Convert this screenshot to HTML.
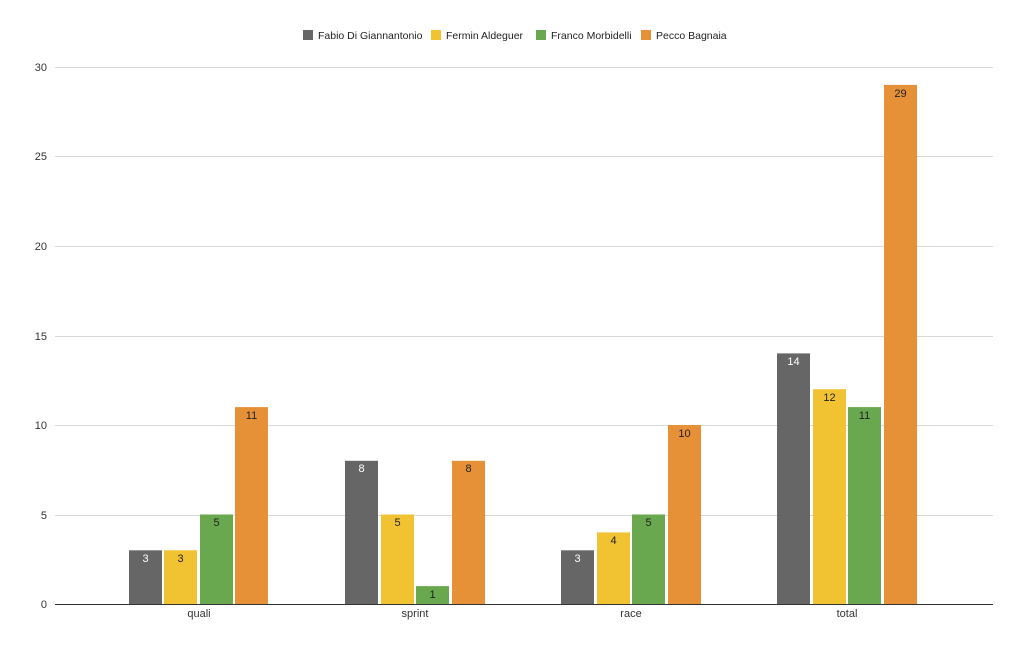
<!DOCTYPE html>
<html><head><meta charset="utf-8"><style>body{margin:0;background:#fff}svg{display:block;font-family:"Liberation Sans",Arial,sans-serif}</style></head><body>
<svg width="1024" height="650" viewBox="0 0 1024 650">
<g font-size="10.5" fill="#222">
<rect x="303" y="30" width="10" height="10" fill="#666666"/><text x="318" y="39">Fabio Di Giannantonio</text>
<rect x="431" y="30" width="10" height="10" fill="#f1c232"/><text x="446" y="39">Fermin Aldeguer</text>
<rect x="536" y="30" width="10" height="10" fill="#6aa84f"/><text x="551" y="39">Franco Morbidelli</text>
<rect x="641" y="30" width="10" height="10" fill="#e69138"/><text x="656" y="39">Pecco Bagnaia</text>
</g>
<g stroke="#d9d9d9" stroke-width="1">
<line x1="55" x2="993" y1="67.5" y2="67.5"/><line x1="55" x2="993" y1="156.5" y2="156.5"/><line x1="55" x2="993" y1="246.5" y2="246.5"/><line x1="55" x2="993" y1="336.5" y2="336.5"/><line x1="55" x2="993" y1="425.5" y2="425.5"/><line x1="55" x2="993" y1="515.5" y2="515.5"/>
</g>
<g font-size="11" fill="#333" text-anchor="end">
<text x="47" y="71">30</text><text x="47" y="160">25</text><text x="47" y="250">20</text><text x="47" y="340">15</text><text x="47" y="429">10</text><text x="47" y="519">5</text><text x="47" y="608">0</text>
</g>
<g>
<rect x="129" y="550.3" width="33" height="53.7" fill="#666666"/><rect x="164" y="550.3" width="33" height="53.7" fill="#f1c232"/><rect x="200" y="514.5" width="33" height="89.5" fill="#6aa84f"/><rect x="235" y="407.1" width="33" height="196.9" fill="#e69138"/>
<rect x="345" y="460.8" width="33" height="143.2" fill="#666666"/><rect x="381" y="514.5" width="33" height="89.5" fill="#f1c232"/><rect x="416" y="586.1" width="33" height="17.9" fill="#6aa84f"/><rect x="452" y="460.8" width="33" height="143.2" fill="#e69138"/>
<rect x="561" y="550.3" width="33" height="53.7" fill="#666666"/><rect x="597" y="532.4" width="33" height="71.6" fill="#f1c232"/><rect x="632" y="514.5" width="33" height="89.5" fill="#6aa84f"/><rect x="668" y="425" width="33" height="179" fill="#e69138"/>
<rect x="777" y="353.4" width="33" height="250.6" fill="#666666"/><rect x="813" y="389.2" width="33" height="214.8" fill="#f1c232"/><rect x="848" y="407.1" width="33" height="196.9" fill="#6aa84f"/><rect x="884" y="84.9" width="33" height="519.1" fill="#e69138"/>
</g>
<g font-size="11" text-anchor="middle" fill="#222">
<text x="145.5" y="562" fill="#fff">3</text><text x="180.5" y="562">3</text><text x="216.5" y="526">5</text><text x="251.5" y="419">11</text>
<text x="361.5" y="472" fill="#fff">8</text><text x="397.5" y="526">5</text><text x="432.5" y="598">1</text><text x="468.5" y="472">8</text>
<text x="577.5" y="562" fill="#fff">3</text><text x="613.5" y="544">4</text><text x="648.5" y="526">5</text><text x="684.5" y="437">10</text>
<text x="793.5" y="365" fill="#fff">14</text><text x="829.5" y="401">12</text><text x="864.5" y="419">11</text><text x="900.5" y="97">29</text>
</g>
<line x1="55" x2="993" y1="604.5" y2="604.5" stroke="#333" stroke-width="1"/>
<g font-size="11" fill="#333" text-anchor="middle">
<text x="199" y="617">quali</text><text x="415" y="617">sprint</text><text x="631" y="617">race</text><text x="847" y="617">total</text>
</g>
</svg>
</body></html>
